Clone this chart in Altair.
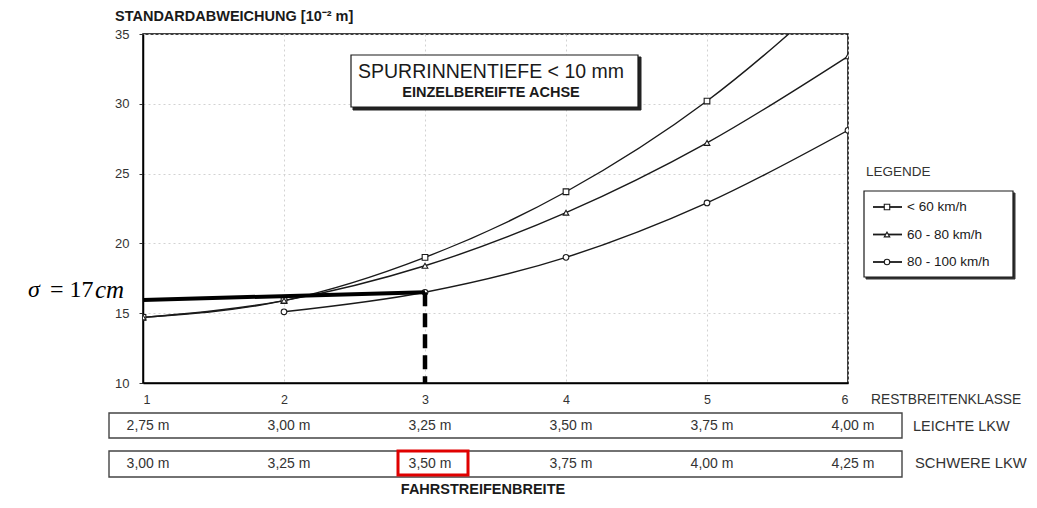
import altair as alt
import pandas as pd

# ---------------- data ----------------
klasse = [1, 2, 3, 4, 5, 6]
serien = ["< 60 km/h", "60 - 80 km/h", "80 - 100 km/h"]
werte_unter_60 = [14.7, 15.9, 19.0, 23.7, 30.2, 38.8]
werte_60_80 = [14.7, 15.9, 18.4, 22.2, 27.2, 33.4]
werte_80_100 = [None, 15.1, 16.5, 19.0, 22.9, 28.1]
leichte_lkw = ["2,75 m", "3,00 m", "3,25 m", "3,50 m", "3,75 m", "4,00  m"]
schwere_lkw = ["3,00 m", "3,25 m", "3,50 m", "3,75 m", "4,00 m", "4,25  m"]
y_ticks = [10, 15, 20, 25, 30, 35]
anno_x = [1, 3]
anno_y = [15.95, 16.5]
anno_drop = [3, 16.5, 10]

FONT = "Liberation Sans"
INK = "#1a1a1a"

rows = []
for name, vals in zip(serien, [werte_unter_60, werte_60_80, werte_80_100]):
    for k, v in zip(klasse, vals):
        if v is not None:
            rows.append({"klasse": k, "wert": v, "serie": name})
df = pd.DataFrame(rows)

xscale = alt.Scale(domain=[1, 6], nice=False, zero=False)
yscale = alt.Scale(domain=[10, 35], nice=False, zero=False)
xaxis = alt.Axis(values=klasse, format="d", title=None, ticks=False, labelPadding=10,
                 labelFontSize=12.5, labelColor="#333", labelFont=FONT,
                 domainColor="black", domainWidth=1.5,
                 grid=True, gridColor="#d2d2d2", gridDash=[2, 3], gridWidth=1)
yaxis = alt.Axis(values=y_ticks, title=None, tickSize=4, tickColor="#333", labelPadding=10,
                 labelFontSize=13, labelColor="#333", labelFont=FONT,
                 domainColor="black", domainWidth=1.5,
                 grid=True, gridColor="#d2d2d2", gridDash=[2, 3], gridWidth=1)
X = alt.X("klasse:Q", scale=xscale, axis=xaxis)
Y = alt.Y("wert:Q", scale=yscale, axis=yaxis)

lines = alt.Chart(df).mark_line(interpolate="monotone", clip=True, color=INK,
                                strokeWidth=1.4).encode(x=X, y=Y, detail="serie:N")
points = alt.Chart(df).mark_point(filled=True, fill="white", stroke=INK, strokeWidth=1.1,
                                  size=32, clip=True, opacity=1).encode(
    x=X, y=Y,
    shape=alt.Shape("serie:N", scale=alt.Scale(domain=serien,
                                                range=["square", "triangle-up", "circle"]),
                    legend=None))

anno = alt.Chart(pd.DataFrame({"klasse": anno_x, "wert": anno_y})).mark_line(
    color="black", strokeWidth=4).encode(x=X, y=Y)
drop = alt.Chart(pd.DataFrame({"klasse": [anno_drop[0]], "wert": [anno_drop[1]],
                               "wert2": [anno_drop[2]]})).mark_rule(
    color="black", strokeWidth=4.5, strokeDash=[14, 7]).encode(x=X, y=Y, y2="wert2:Q")


def txt(s, x, y, size=12, weight="normal", align="left", font=FONT, style="normal",
        color=INK):
    return alt.Chart(pd.DataFrame({"t": [s]})).mark_text(
        align=align, baseline="middle", fontSize=size, fontWeight=weight, font=font,
        fontStyle=style, color=color).encode(x=alt.value(x), y=alt.value(y), text="t:N")


def box(x1, y1, x2, y2, fill="white", stroke=INK, sw=1.2, fo=1.0):
    return alt.Chart(pd.DataFrame({"a": [0]})).mark_rect(
        fill=fill, fillOpacity=fo, stroke=stroke, strokeWidth=sw).encode(
        x=alt.value(x1), x2=alt.value(x2), y=alt.value(y1), y2=alt.value(y2))


layers = [lines, points, anno, drop]

# title box
layers += [box(210, 23, 498, 76, fill="#222", stroke="#222", sw=1),
           box(208, 21, 495, 73, fill="white", stroke=INK, sw=1.2),
           txt("SPURRINNENTIEFE  < 10 mm", 348, 38, size=19.5, align="center"),
           txt("EINZELBEREIFTE ACHSE", 348, 59, size=14.5, weight="bold", align="center")]

# y axis title
layers += [txt("STANDARDABWEICHUNG  [10\u207b\u00b2 m]", -28, -17, size=14.5, weight="bold")]

# sigma annotation
layers += [txt("\u03c3", -115, 256, size=24, font="Liberation Serif", style="italic",
               color="black"),
           txt("= 17", -93, 256, size=24, font="Liberation Serif", color="black"),
           txt("cm", -48, 256, size=25, font="Liberation Serif", style="italic",
               color="black")]

# legend
layers += [txt("LEGENDE", 723, 138, size=13.5, color="#333"),
           box(723, 159, 872, 245, fill="#333", stroke="#333", sw=1),
           box(721, 157, 870, 243, fill="white", stroke=INK, sw=1.2)]
for i, (name, shp) in enumerate(zip(serien, ["square", "triangle-up", "circle"])):
    yy = 173 + 27.5 * i
    layers.append(alt.Chart(pd.DataFrame({"a": [0]})).mark_rule(
        color=INK, strokeWidth=1.8).encode(x=alt.value(730), x2=alt.value(759),
                                           y=alt.value(yy)))
    layers.append(alt.Chart(pd.DataFrame({"a": [0]})).mark_point(
        shape=shp, filled=True, fill="white", stroke=INK, strokeWidth=1.1, size=30,
        opacity=1).encode(x=alt.value(744), y=alt.value(yy)))
    layers.append(txt(name, 764, yy, size=13.5))

# x axis label + table
layers += [txt("RESTBREITENKLASSE", 728, 366, size=13.8, color="#333"),
           box(-34, 379, 759, 404, fill="white", stroke="#444", sw=1.4),
           box(-34, 417, 759, 443, fill="white", stroke="#444", sw=1.4),
           txt("LEICHTE LKW", 770, 393, size=14.5, color="#333"),
           txt("SCHWERE LKW", 772, 430, size=14.8, color="#333"),
           txt("FAHRSTREIFENBREITE", 340, 456, size=14.5, weight="bold", align="center")]

df_l = pd.DataFrame({"klasse": klasse, "t": leichte_lkw})
df_s = pd.DataFrame({"klasse": klasse, "t": schwere_lkw})
layers.append(alt.Chart(df_l).mark_text(fontSize=14, font=FONT, color="#333", dx=5,
                                        baseline="middle").encode(
    x=X, y=alt.value(392), text="t:N"))
layers.append(alt.Chart(df_s).mark_text(fontSize=14, font=FONT, color="#333", dx=5,
                                        baseline="middle").encode(
    x=X, y=alt.value(430), text="t:N"))

# red highlight
layers.append(box(255, 417, 325, 441, fill="white", stroke="#e00000", sw=3, fo=0))

chart = alt.layer(*layers).properties(
    width=705, height=349,
    padding={"left": 135, "top": 26, "right": 181, "bottom": 117},
    autosize=alt.AutoSizeParams(type="none"),
).configure_view(stroke="black", strokeWidth=1.5)

chart.save("out.html", embed_options={"renderer": "svg", "actions": False})
